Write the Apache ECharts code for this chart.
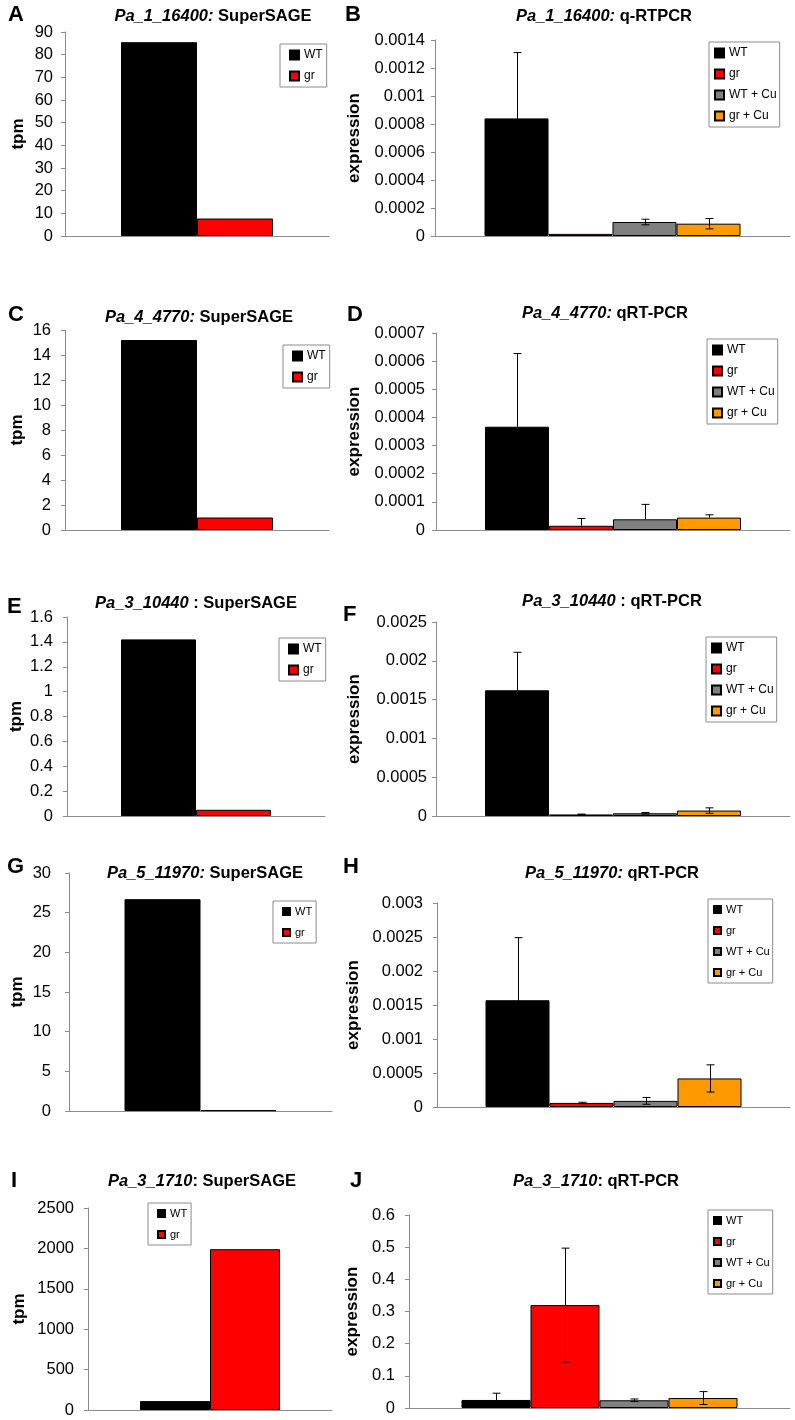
<!DOCTYPE html>
<html><head><meta charset="utf-8">
<script src="https://cdn.jsdelivr.net/npm/echarts@6/dist/echarts.min.js"></script>
<style>html,body{margin:0;padding:0;background:#fff}#c{width:795px;height:1420px}</style>
</head><body><div id="c"></div>
<script>
// ---------- data ----------
const groups2 = ['WT', 'gr'];
const groups4 = ['WT', 'gr', 'WT + Cu', 'gr + Cu'];
const groupColors = ['#000000', '#ff0000', '#808080', '#ff9900'];

const sageA = [85.5, 7.7];
const pcrB = [0.00084, 0.000015, 0.0001, 0.000088];
const pcrBPlus = [0.00047, 0, 0.00002, 0.000037];
const pcrBMinus = [0.00047, 0, 0.00002, 0.000037];

const sageC = [15.2, 1.0];
const pcrD = [0.000367, 0.000015, 0.000038, 0.000044];
const pcrDPlus = [0.00026, 0.000026, 0.000053, 0.00001];
const pcrDMinus = [0, 0, 0, 0];

const sageE = [1.42, 0.05];
const pcrF = [0.00162, 0.00002, 0.000035, 0.00007];
const pcrFPlus = [0.00049, 0.000005, 0.00001, 0.000035];
const pcrFMinus = [0.00049, 0.000005, 0.00001, 0.000035];

const sageG = [26.7, 0.1];
const pcrH = [0.00157, 0.00006, 0.00009, 0.00042];
const pcrHPlus = [0.00092, 0.00001, 0.00005, 0.0002];
const pcrHMinus = [0.00092, 0.00001, 0.00005, 0.0002];

const sageI = [110, 1990];
const pcrJ = [0.025, 0.32, 0.024, 0.031];
const pcrJPlus = [0.021, 0.177, 0.004, 0.02];
const pcrJMinus = [0.021, 0.177, 0.004, 0.02];

// ---------- panel layout ----------
const FONT = '"Liberation Sans", Arial, sans-serif';
const panels = [
  {letter:'A', lx:8, ly:15, gene:'Pa_1_16400:', method:' SuperSAGE', tx:213, ty:16,
   grid:{left:65, top:32, width:264, height:204}, max:90, interval:10, yName:'tpm', nameGap:38, labelMargin:12,
   groups:groups2, values:sageA, barW:76, legend:{left:280, top:44, small:false}},
  {letter:'B', lx:345, ly:15, gene:'Pa_1_16400:', method:' q-RTPCR', tx:604, ty:16,
   grid:{left:435, top:40, width:355, height:196}, max:0.0014, interval:0.0002, yName:'expression', nameGap:72, labelMargin:10,
   groups:groups4, values:pcrB, plus:pcrBPlus, minus:pcrBMinus, barW:64, legend:{left:709, top:42, small:false}},
  {letter:'C', lx:8, ly:315, gene:'Pa_4_4770:', method:' SuperSAGE', tx:199, ty:317,
   grid:{left:65, top:330, width:264, height:200}, max:16, interval:2, yName:'tpm', nameGap:39, labelMargin:14,
   groups:groups2, values:sageC, barW:76, legend:{left:283, top:345, small:false}},
  {letter:'D', lx:347, ly:315, gene:'Pa_4_4770:', method:' qRT-PCR', tx:605, ty:313,
   grid:{left:436, top:333, width:354, height:197}, max:0.0007, interval:0.0001, yName:'expression', nameGap:73, labelMargin:11,
   groups:groups4, values:pcrD, plus:pcrDPlus, minus:pcrDMinus, barW:64, legend:{left:707, top:339, small:false}},
  {letter:'E', lx:7, ly:607, gene:'Pa_3_10440', method:' : SuperSAGE', tx:196, ty:603,
   grid:{left:67, top:617, width:258, height:199}, max:1.6, interval:0.2, yName:'tpm', nameGap:42, labelMargin:14,
   groups:groups2, values:sageE, barW:75, legend:{left:279, top:638, small:false}},
  {letter:'F', lx:343, ly:615, gene:'Pa_3_10440', method:' : qRT-PCR', tx:612, ty:601,
   grid:{left:436, top:622, width:354, height:194}, max:0.0025, interval:0.0005, yName:'expression', nameGap:73, labelMargin:9,
   groups:groups4, values:pcrF, plus:pcrFPlus, minus:pcrFMinus, barW:64, legend:{left:706, top:637, small:false}},
  {letter:'G', lx:7, ly:867, gene:'Pa_5_11970:', method:' SuperSAGE', tx:205, ty:873,
   grid:{left:69, top:873, width:263, height:238}, max:30, interval:5, yName:'tpm', nameGap:43, labelMargin:18,
   groups:groups2, values:sageG, barW:76, legend:{left:273, top:901, small:true}},
  {letter:'H', lx:343, ly:867, gene:'Pa_5_11970:', method:' qRT-PCR', tx:612, ty:873,
   grid:{left:437, top:903, width:353, height:204}, max:0.003, interval:0.0005, yName:'expression', nameGap:75, labelMargin:14,
   groups:groups4, values:pcrH, plus:pcrHPlus, minus:pcrHMinus, barW:64, legend:{left:708, top:899, small:true}},
  {letter:'I', lx:11, ly:1181, gene:'Pa_3_1710', method:': SuperSAGE', tx:202, ty:1181,
   grid:{left:88, top:1208, width:244, height:202}, max:2500, interval:500, yName:'tpm', nameGap:60, labelMargin:14,
   groups:groups2, values:sageI, barW:70, legend:{left:148, top:1203, small:true}},
  {letter:'J', lx:350, ly:1181, gene:'Pa_3_1710', method:': qRT-PCR', tx:596, ty:1181,
   grid:{left:409, top:1215, width:381, height:193}, max:0.6, interval:0.1, yName:'expression', nameGap:48, labelMargin:14,
   groups:groups4, values:pcrJ, plus:pcrJPlus, minus:pcrJMinus, barW:69, legend:{left:708, top:1210, small:true}}
];

const AXIS_COLOR = '#8c8c8c';

function errorRender(barW, n) {
  return function (params, api) {
    const cat = api.value(0);
    const v = api.value(1), up = api.value(2), dn = api.value(3), i = api.value(4);
    if (!(up > 0) && !(dn > 0)) return null;
    const base = api.coord([cat, v]);
    const x = Math.round(base[0] + (i - (n - 1) / 2) * barW) + 0.5;
    const yTop = api.coord([cat, v + up])[1];
    const yBot = api.coord([cat, v - dn])[1];
    const cap = 4;
    const style = {stroke: '#000', lineWidth: 1};
    const children = [{type: 'line', shape: {x1: x, y1: yTop, x2: x, y2: yBot}, style}];
    if (up > 0) children.push({type: 'line', shape: {x1: x - cap, y1: yTop, x2: x + cap, y2: yTop}, style});
    if (dn > 0) children.push({type: 'line', shape: {x1: x - cap, y1: yBot, x2: x + cap, y2: yBot}, style});
    return {type: 'group', children};
  };
}

function plainNumber(v) {
  return String(parseFloat(v.toPrecision(10)));
}

const grids = [], xAxes = [], yAxes = [], series = [], legends = [], graphics = [];

panels.forEach((p, k) => {
  grids.push(Object.assign({containLabel: false}, p.grid));
  xAxes.push({
    type: 'category', gridIndex: k, data: [''],
    axisLine: {show: true, lineStyle: {color: AXIS_COLOR, width: 1}},
    axisTick: {show: false}, axisLabel: {show: false}, splitLine: {show: false}
  });
  yAxes.push({
    type: 'value', gridIndex: k, min: 0, max: p.max, interval: p.interval,
    name: p.yName, nameLocation: 'middle', nameGap: p.nameGap,
    nameTextStyle: {fontFamily: FONT, fontWeight: 'bold', fontSize: 17, color: '#000'},
    axisLine: {show: true, lineStyle: {color: AXIS_COLOR, width: 1}},
    axisTick: {show: true, inside: false, length: 4, lineStyle: {color: AXIS_COLOR}},
    axisLabel: {fontFamily: FONT, fontSize: 16.5, color: '#000', margin: p.labelMargin, formatter: plainNumber},
    splitLine: {show: false}
  });
  p.groups.forEach((g, i) => {
    series.push({
      type: 'bar', name: g, xAxisIndex: k, yAxisIndex: k,
      data: [p.values[i]], barWidth: p.barW, barGap: '0%',
      itemStyle: {color: groupColors[i], borderColor: '#000', borderWidth: 1},
      emphasis: {disabled: true}, animation: false
    });
  });
  if (p.plus) {
    series.push({
      type: 'custom', name: 'err' + p.letter, xAxisIndex: k, yAxisIndex: k, z: 5,
      renderItem: errorRender(p.barW, p.groups.length),
      encode: {x: 0, y: 1},
      data: p.values.map((v, i) => [0, v, p.plus[i], p.minus[i], i]),
      animation: false, silent: true
    });
  }
  const sm = p.legend.small;
  legends.push({
    data: p.groups, orient: 'vertical', left: p.legend.left, top: p.legend.top,
    icon: 'rect', itemWidth: sm ? 7 : 9, itemHeight: sm ? 7 : 9, itemGap: sm ? 8 : 7,
    padding: p.groups.length === 2 ? [4, 4, 4, 9] : [4, 3, 4, 5],
    borderColor: AXIS_COLOR, borderWidth: 1, backgroundColor: '#fff',
    selectedMode: false,
    textStyle: {fontFamily: FONT, fontSize: sm ? 11 : 12, lineHeight: sm ? 13 : 14, color: '#000'}
  });
  graphics.push({
    type: 'text', x: p.lx, y: p.ly,
    style: {text: p.letter, font: 'bold 22px ' + FONT, fill: '#000',
      align: 'left', textAlign: 'left', verticalAlign: 'middle', textVerticalAlign: 'middle'}
  });
  graphics.push({
    type: 'text', x: p.tx, y: p.ty,
    style: {
      text: '{i|' + p.gene + '}{b|' + p.method + '}',
      rich: {
        i: {fontFamily: FONT, fontSize: 16.5, fontWeight: 'bold', fontStyle: 'italic', fill: '#000', color: '#000'},
        b: {fontFamily: FONT, fontSize: 16.5, fontWeight: 'bold', fill: '#000', color: '#000'}
      },
      fill: '#000',
      align: 'center', textAlign: 'center', verticalAlign: 'middle', textVerticalAlign: 'middle'
    }
  });
});

const chart = echarts.init(document.getElementById('c'), null, {renderer: 'canvas'});
chart.setOption({
  backgroundColor: '#ffffff',
  animation: false,
  grid: grids, xAxis: xAxes, yAxis: yAxes, series, legend: legends,
  graphic: graphics
});
</script>
</body></html>
